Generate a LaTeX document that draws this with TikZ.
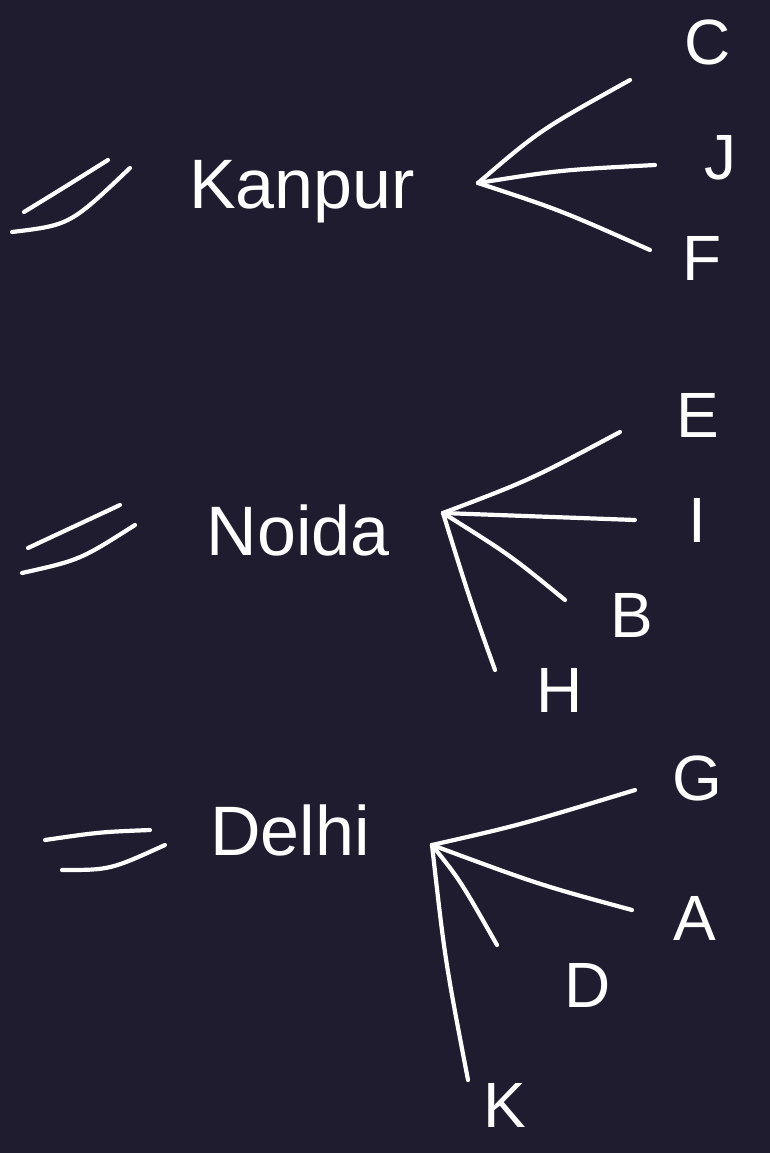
\documentclass[tikz,border=0pt]{standalone}
\usepackage{fontspec}
\setmainfont{Liberation Sans}
\definecolor{bg}{RGB}{30,28,46}
\tikzset{
  ink/.style={draw=white, line width=4.2pt, line cap=round, line join=round},
  city/.style={text=white, font=\fontsize{70}{72}\selectfont, inner sep=0pt},
  leaf/.style={text=white, font=\fontsize{64}{66}\selectfont, inner sep=0pt}
}
\begin{document}
\begin{tikzpicture}[x=1pt,y=-1pt]
\fill[bg] (0,0) rectangle (770,1153);
\useasboundingbox (0,0) rectangle (770,1153);

% Kanpur group
\draw[ink] (24,212) .. controls (60,190) .. (108,160);
\draw[ink] (12,232) .. controls (70,225) .. (130,168);
\node[city] (kanpur) at (302,192) {Kanpur};
\coordinate (hk) at (478,183);
\node[leaf] (C) at (708,42) {C};
\node[leaf] (J) at (720,158) {J};
\node[leaf] (F) at (702,258) {F};
\coordinate (kc) at (630,80);
\coordinate (kj) at (655,165);
\coordinate (kf) at (650,250);
\draw[ink] (hk) .. controls (540,130) .. (kc);
\draw[ink] (hk) .. controls (560,170) .. (kj);
\draw[ink] (hk) .. controls (560,210) .. (kf);

% Noida group
\draw[ink] (28,548) -- (120,505);
\draw[ink] (22,573) .. controls (80,560) .. (135,525);
\node[city] (noida) at (298,530) {Noida};
\coordinate (hn) at (443,513);
\node[leaf] (E) at (698,415) {E};
\node[leaf] (I) at (697,520) {I};
\node[leaf] (B) at (632,615) {B};
\node[leaf] (H) at (560,690) {H};
\coordinate (ne) at (620,432);
\coordinate (ni) at (635,520);
\coordinate (nb) at (565,600);
\coordinate (nh) at (495,670);
\draw[ink] (hn) .. controls (530,480) .. (ne);
\draw[ink] (hn) -- (ni);
\draw[ink] (hn) .. controls (510,555) .. (nb);
\draw[ink] (hn) .. controls (470,600) .. (nh);

% Delhi group
\draw[ink] (45,840) .. controls (100,832) .. (150,830);
\draw[ink] (62,870) .. controls (110,870) .. (165,845);
\node[city] (delhi) at (290,830) {Delhi};
\coordinate (hd) at (432,845);
\node[leaf] (G) at (697,778) {G};
\node[leaf] (A) at (695,918) {A};
\node[leaf] (D) at (588,985) {D};
\node[leaf] (K) at (505,1105) {K};
\coordinate (dg) at (635,790);
\coordinate (da) at (632,910);
\coordinate (dd) at (497,945);
\coordinate (dk) at (468,1080);
\draw[ink] (hd) .. controls (520,825) .. (dg);
\draw[ink] (hd) .. controls (540,885) .. (da);
\draw[ink] (hd) .. controls (460,880) .. (dd);
\draw[ink] (hd) .. controls (445,960) .. (dk);
\end{tikzpicture}
\end{document}
